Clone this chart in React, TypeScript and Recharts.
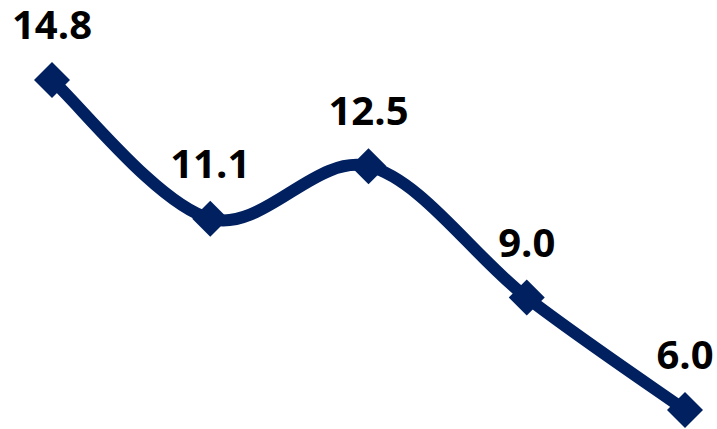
import React from 'react'
import { LineChart, Line, XAxis, YAxis } from 'recharts'

const categories = ['A', 'B', 'C', 'D', 'E']
const values = [14.8, 11.1, 12.5, 9.0, 6.0]

const NAVY = '#002060'

const data = categories.map((c, i) => ({ name: c, value: values[i] }))

// Excel-like smooth line (uniform Catmull-Rom as cubic beziers)
function smoothCurve(context: any) {
  let pts: number[][] = []
  return {
    areaStart() {},
    areaEnd() {},
    lineStart() {
      pts = []
    },
    point(x: number, y: number) {
      pts.push([+x, +y])
    },
    lineEnd() {
      if (!pts.length) return
      context.moveTo(pts[0][0], pts[0][1])
      for (let i = 0; i < pts.length - 1; i++) {
        const p0 = pts[i - 1] || pts[i]
        const p1 = pts[i]
        const p2 = pts[i + 1]
        const p3 = pts[i + 2] || p2
        context.bezierCurveTo(
          p1[0] + (p2[0] - p0[0]) / 6,
          p1[1] + (p2[1] - p0[1]) / 6,
          p2[0] - (p3[0] - p1[0]) / 6,
          p2[1] - (p3[1] - p1[1]) / 6,
          p2[0],
          p2[1]
        )
      }
    },
  }
}

function Diamond(props: any) {
  const { cx, cy, index } = props
  if (cx == null || cy == null) return null
  const r = 18
  return (
    <polygon
      key={`d-${index}`}
      points={`${cx},${cy - r} ${cx + r},${cy} ${cx},${cy + r} ${cx - r},${cy}`}
      fill={NAVY}
    />
  )
}

function ValueLabel(props: any) {
  const { x, y, value, index } = props
  return (
    <text
      key={`l-${index}`}
      x={x}
      y={y - 41}
      textAnchor="middle"
      fontFamily="'Open Sans', sans-serif"
      fontWeight={700}
      fontSize={40}
      fill="#000"
    >
      {Number(value).toFixed(1)}
    </text>
  )
}

export default function App() {
  return (
    <div style={{ position: 'absolute', left: 0, top: 0, width: 717, height: 429, background: '#fff' }}>
      <LineChart
        width={717}
        height={429}
        data={data}
        margin={{ top: 80, right: 32, bottom: 19, left: 52 }}
      >
        <XAxis dataKey="name" hide padding={{ left: 0, right: 0 }} />
        <YAxis hide domain={[6, 14.8]} />
        <Line
          dataKey="value"
          type={smoothCurve as any}
          stroke={NAVY}
          strokeWidth={12}
          dot={<Diamond />}
          activeDot={false}
          label={<ValueLabel />}
          isAnimationActive={false}
        />
      </LineChart>
    </div>
  )
}
